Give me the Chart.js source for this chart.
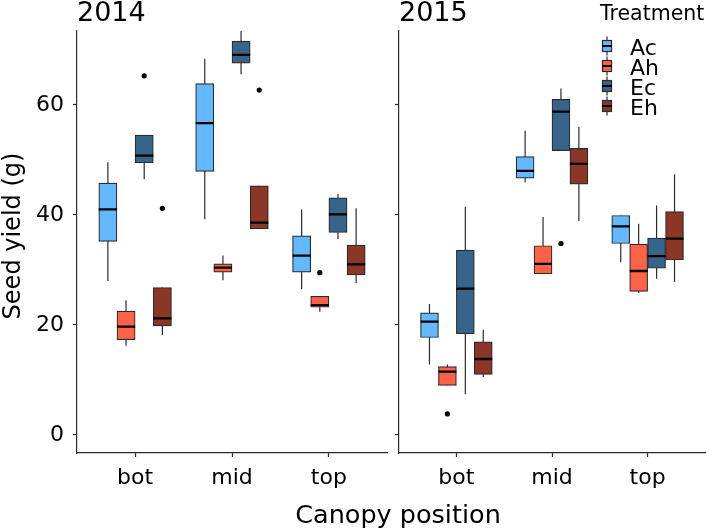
<!DOCTYPE html>
<html>
<head>
<meta charset="utf-8">
<script src="https://cdn.jsdelivr.net/npm/chart.js@4.4.1/dist/chart.umd.min.js"></script>
<style>
  html, body { margin: 0; padding: 0; background: #ffffff; }
  #wrap { position: relative; width: 709px; height: 531px; overflow: hidden; background: #ffffff; }
  canvas { position: absolute; top: 0; }
  #cL { left: 0; }
  #cR { left: 392px; }
</style>
</head>
<body>
<div id="wrap">
  <canvas id="cL" width="709" height="531"></canvas>
  <canvas id="cR" width="317" height="531"></canvas>
</div>
<script>
// ---------------- data ----------------
const categories = ['bot', 'mid', 'top'];
const treatments = ['Ac', 'Ah', 'Ec', 'Eh'];
const colors = ['#63B8FF', '#FF6347', '#36648B', '#8B3626'];
const yTicks = [0, 20, 40, 60];
const years = ['2014', '2015'];

// each entry: [lower whisker, Q1, median, Q3, upper whisker] for bot, mid, top
const y2014_Ac = [[28.0, 35.2, 41.0, 45.8, 49.6], [39.2, 47.9, 56.7, 63.9, 68.4], [26.5, 29.6, 32.6, 36.2, 41.0]];
const y2014_Ah = [[16.2, 17.3, 19.7, 22.5, 24.5], [28.1, 29.6, 30.4, 31.1, 32.6], [22.4, 23.2, 23.6, 25.2, 25.2]];
const y2014_Ec = [[46.5, 49.5, 50.8, 54.5, 54.5], [65.6, 67.6, 69.1, 71.6, 73.5], [35.6, 36.8, 40.1, 43.1, 43.8]];
const y2014_Eh = [[18.1, 19.8, 21.2, 26.8, 26.8], [37.5, 37.5, 38.6, 45.3, 45.3], [27.6, 29.1, 31.0, 34.5, 41.2]];

const y2015_Ac = [[12.8, 17.7, 20.6, 22.2, 23.8], [45.9, 46.7, 48.0, 50.6, 55.3], [31.4, 34.8, 37.9, 39.9, 39.9]];
const y2015_Ah = [[9.0, 9.0, 11.5, 12.4, 12.8], [29.3, 29.3, 31.1, 34.4, 39.6], [25.8, 26.1, 29.8, 34.7, 38.4]];
const y2015_Ec = [[7.4, 18.4, 26.6, 33.6, 41.5], [51.7, 51.7, 58.8, 61.0, 63.0], [28.4, 30.3, 32.5, 35.8, 41.7]];
const y2015_Eh = [[10.5, 11.0, 13.8, 16.9, 19.1], [38.9, 45.6, 49.3, 52.1, 56.0], [27.8, 31.8, 35.7, 40.6, 47.4]];

// outliers for bot, mid, top
const out2014_Ac = [[], [], []];
const out2014_Ah = [[], [], [29.5]];
const out2014_Ec = [[65.3], [], []];
const out2014_Eh = [[41.2], [62.7], []];

const out2015_Ac = [[], [], []];
const out2015_Ah = [[3.8], [], []];
const out2015_Ec = [[], [34.8], []];
const out2015_Eh = [[], [], []];

const Y_MIN = -3.3;
const Y_MAX = 73.45;

// ---------------- build ----------------
const FONT = '"DejaVu Sans", "Liberation Sans", sans-serif';
Chart.defaults.font.family = FONT;
const DODGE = 0.75;
const BOXW = DODGE / treatments.length;
const LINE = '#2b2b2b';

function xPos(c, t) { return (c + 1) + (t - (treatments.length - 1) / 2) * BOXW; }

function buildDatasets(stats, outs) {
  const ds = [];
  treatments.forEach((name, t) => {
    const whisk = [], box = [], med = [], pts = [];
    stats[t].forEach((s, c) => {
      const x = xPos(c, t);
      whisk.push({ x: x, y: s[0] }, { x: x, y: s[4] }, { x: x, y: null });
      box.push({ x: x, y: [s[1], s[3]] });
      med.push({ x: x - BOXW / 2, y: s[2] }, { x: x + BOXW / 2, y: s[2] }, { x: x, y: null });
      outs[t][c].forEach(v => pts.push({ x: x, y: v }));
    });
    ds.push({
      type: 'line', label: name + ' whisker', data: whisk, order: 4,
      borderColor: LINE, borderWidth: 1.2, pointRadius: 0, spanGaps: false, fill: false, tension: 0
    });
    ds.push({
      type: 'bar', label: name, data: box, order: 3,
      backgroundColor: colors[t], borderColor: LINE, borderWidth: 1.2, borderSkipped: false,
      grouped: false, categoryPercentage: 1, barPercentage: 1
    });
    ds.push({
      type: 'line', label: name + ' median', data: med, order: 2,
      borderColor: '#000000', borderWidth: 2.3, pointRadius: 0, spanGaps: false, fill: false,
      tension: 0, borderCapStyle: 'butt'
    });
    ds.push({
      type: 'scatter', label: name + ' outlier', data: pts, order: 1,
      pointRadius: 2.6, pointBackgroundColor: '#000000', pointBorderWidth: 0, showLine: false
    });
  });
  return ds;
}

function options(title, yAxisWidth, showYLabels, padRight) {
  const grid = { display: true, drawOnChartArea: false, drawTicks: true, tickLength: 4, tickColor: LINE, tickWidth: 1.2, offset: false };
  const border = { display: true, color: LINE, width: 1.2 };
  return {
    responsive: false,
    animation: false,
    events: [],
    layout: { padding: { left: 0, right: padRight, top: 0, bottom: 0 } },
    plugins: {
      legend: { display: false },
      tooltip: { enabled: false },
      title: {
        display: true, text: title, align: 'start', fullSize: false, color: '#000000',
        font: { family: FONT, size: 27, weight: 'normal', lineHeight: 1 },
        padding: { top: 0, bottom: 4 }
      }
    },
    scales: {
      x: {
        type: 'linear', min: 0.4, max: 3.6, offset: false,
        afterBuildTicks: s => { s.ticks = categories.map((_, i) => ({ value: i + 1 })); },
        afterFit: s => { s.height = 78; },
        ticks: {
          callback: v => categories[Math.round(v) - 1] || '',
          color: '#000000', font: { family: FONT, size: 22 }, padding: 8,
          autoSkip: false, maxRotation: 0, minRotation: 0
        },
        grid: grid, border: border
      },
      y: {
        type: 'linear', min: Y_MIN, max: Y_MAX,
        afterBuildTicks: s => { s.ticks = yTicks.map(v => ({ value: v })); },
        afterFit: s => { s.width = yAxisWidth; },
        ticks: { display: showYLabels, color: '#000000', font: { family: FONT, size: 22 }, padding: 9 },
        grid: grid, border: border
      }
    }
  };
}

const axisTitlePlugin = {
  id: 'axisTitles',
  afterDraw(chart) {
    const ctx = chart.ctx;
    const a = chart.chartArea;
    ctx.save();
    ctx.fillStyle = '#000000';
    ctx.textAlign = 'center';
    ctx.textBaseline = 'alphabetic';
    ctx.font = '24px ' + FONT;
    ctx.save();
    ctx.translate(19.5, (a.top + a.bottom) / 2 - 6);
    ctx.rotate(-Math.PI / 2);
    ctx.fillText('Seed yield (g)', 0, 0);
    ctx.restore();
    ctx.font = '25.5px ' + FONT;
    ctx.fillText('Canopy position', 398, 522.5);
    ctx.restore();
  }
};

const legendPlugin = {
  id: 'treatmentLegend',
  afterDraw(chart) {
    const ctx = chart.ctx;
    const x0 = 208;
    ctx.save();
    ctx.fillStyle = '#000000';
    ctx.textAlign = 'left';
    ctx.textBaseline = 'alphabetic';
    ctx.font = '20.5px ' + FONT;
    ctx.fillText('Treatment', x0, 20);
    treatments.forEach((t, i) => {
      const cy = 46 + i * 20;
      const kx = x0 + 2, kw = 10;
      ctx.strokeStyle = LINE;
      ctx.lineWidth = 1.2;
      ctx.beginPath();
      ctx.moveTo(kx + kw / 2, cy - 9.5);
      ctx.lineTo(kx + kw / 2, cy + 9.5);
      ctx.stroke();
      ctx.fillStyle = colors[i];
      ctx.fillRect(kx, cy - 6, kw, 12);
      ctx.strokeRect(kx + 0.5, cy - 5.5, kw - 1, 11);
      ctx.strokeStyle = '#000000';
      ctx.lineWidth = 2;
      ctx.beginPath();
      ctx.moveTo(kx, cy);
      ctx.lineTo(kx + kw, cy);
      ctx.stroke();
      ctx.fillStyle = '#000000';
      ctx.font = '22px ' + FONT;
      ctx.fillText(t, 238, cy + 8.5);
    });
    ctx.restore();
  }
};

new Chart(document.getElementById('cL'), {
  type: 'bar',
  data: { datasets: buildDatasets([y2014_Ac, y2014_Ah, y2014_Ec, y2014_Eh], [out2014_Ac, out2014_Ah, out2014_Ec, out2014_Eh]) },
  options: options(years[0], 77, true, 322),
  plugins: [axisTitlePlugin]
});

new Chart(document.getElementById('cR'), {
  type: 'bar',
  data: { datasets: buildDatasets([y2015_Ac, y2015_Ah, y2015_Ec, y2015_Eh], [out2015_Ac, out2015_Ah, out2015_Ec, out2015_Eh]) },
  options: options(years[1], 7, false, 0),
  plugins: [legendPlugin]
});
</script>
</body>
</html>
